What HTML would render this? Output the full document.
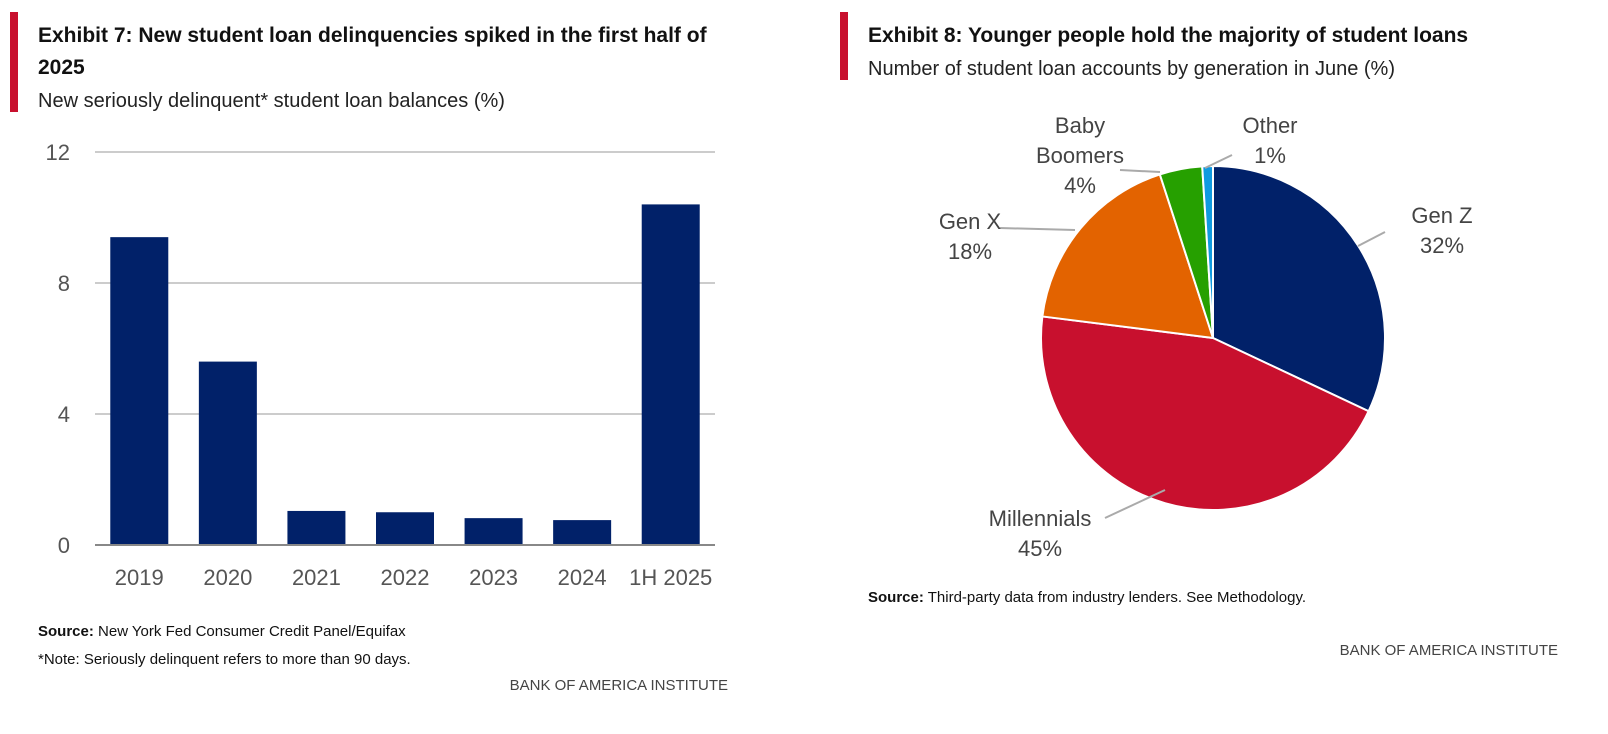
<!DOCTYPE html>
<html><head><meta charset="utf-8"><style>
body{margin:0;width:1608px;height:734px;background:#fff;overflow:hidden;font-family:"Liberation Sans Narrow","Liberation Sans",sans-serif;color:#333}
</style></head><body>
<svg width="1608" height="734" style="position:absolute;left:0;top:0">
<rect x="10" y="12" width="8" height="100" fill="#c8102e"/>
<text x="38" y="42" font-size="21" font-weight="bold" fill="#111">Exhibit 7: New student loan delinquencies spiked in the first half of</text>
<text x="38" y="74" font-size="21" font-weight="bold" fill="#111">2025</text>
<text x="38" y="107" font-size="20" fill="#222">New seriously delinquent* student loan balances (%)</text>
<g id="bars"></g>
<text x="38" y="636" font-size="15" fill="#111"><tspan font-weight="bold">Source:</tspan> New York Fed Consumer Credit Panel/Equifax</text>
<text x="38" y="664" font-size="15" fill="#111">*Note: Seriously delinquent refers to more than 90 days.</text>
<text x="728" y="690" font-size="15" fill="#444" text-anchor="end">BANK OF AMERICA INSTITUTE</text>

<rect x="840" y="12" width="8" height="68" fill="#c8102e"/>
<text x="868" y="42" font-size="21" font-weight="bold" fill="#111">Exhibit 8: Younger people hold the majority of student loans</text>
<text x="868" y="75" font-size="20" fill="#222">Number of student loan accounts by generation in June (%)</text>
<g id="pie"></g>
<text x="868" y="602" font-size="15" fill="#111"><tspan font-weight="bold">Source:</tspan> Third-party data from industry lenders. See Methodology.</text>
<text x="1558" y="655" font-size="15" fill="#444" text-anchor="end">BANK OF AMERICA INSTITUTE</text>
</svg>
<script>
const years=["2019","2020","2021","2022","2023","2024","1H 2025"];
const rates=[9.4,5.6,1.04,1.0,0.82,0.76,10.4];
const yTicks=[0,4,8,12];
const gens=["Gen Z","Millennials","Gen X","Baby Boomers","Other"];
const shares=[32,45,18,4,1];
const NS="http://www.w3.org/2000/svg";
function mk(p,tag,a){const e=document.createElementNS(NS,tag);for(const k in a)e.setAttribute(k,a[k]);p.appendChild(e);return e;}
const bg=document.getElementById('bars');
const x0=95,x1=715,y0=545,y12=152;
const ys=v=>y0-(v/12)*(y0-y12);
const step=(x1-x0)/years.length;
yTicks.forEach(v=>{
 const l=mk(bg,'line',{x1:x0,x2:x1,y1:ys(v),y2:ys(v),stroke:v===0?'#888':'#ccc','stroke-width':2});
 
 
 const t=mk(bg,'text',{x:70,y:ys(v)+8,'font-size':22,fill:'#555','text-anchor':'end'});t.textContent=v;
 
 
});
years.forEach((y,i)=>{
 const cx=x0+step*(i+0.5);
 const r=mk(bg,'rect',{x:cx-29,y:ys(rates[i]),width:58,height:y0-ys(rates[i]),fill:'#012169'});
 
 
 const t=mk(bg,'text',{x:cx,y:585,'font-size':22,fill:'#555','text-anchor':'middle'});t.textContent=y;
 
 
});
mk(bg,'line',{x1:x0,x2:x1,y1:y0,y2:y0,stroke:'#888','stroke-width':2});
const pg=document.getElementById('pie');
const cx=1213,cy=338,R=172;
const colors=["#012169","#c8102e","#e36300","#26a000","#0f9ae0"];
const labelPos=[[1442,223,1385,232,1358,246],[1040,526,1105,518,1165,490],[970,229,1000,228,1075,230],[1080,133,1120,170,1160,172],[1270,133,1232,155,1205,168]];
let a=0;const tot=shares.reduce((s,v)=>s+v,0);
shares.forEach((v,i)=>{
 const a2=a+v/tot*2*Math.PI;
 const p=(t)=>[cx+R*Math.sin(t),cy-R*Math.cos(t)];
 const [sx,sy]=p(a),[ex,ey]=p(a2);
 const s=mk(pg,'path',{d:`M${cx},${cy}L${sx},${sy}A${R},${R} 0 ${a2-a>Math.PI?1:0} 1 ${ex},${ey}Z`,fill:colors[i],stroke:'#fff','stroke-width':2});
 
 
 const L=labelPos[i];
 mk(pg,'polyline',{points:`${L[2]},${L[3]} ${L[4]},${L[5]}`,stroke:'#aaa','stroke-width':2,fill:'none'});
 const words=gens[i]==="Baby Boomers"?["Baby","Boomers"]:[gens[i]];
 const lines=[...words,v+"%"];
 const t=mk(pg,'text',{x:L[0],y:L[1],'font-size':22,fill:'#444','text-anchor':'middle'});
 lines.forEach((w,j)=>{const ts=mk(t,'tspan',{x:L[0],dy:j?30:0});ts.textContent=w;});
 
 
 a=a2;
});
</script>
</body></html>
